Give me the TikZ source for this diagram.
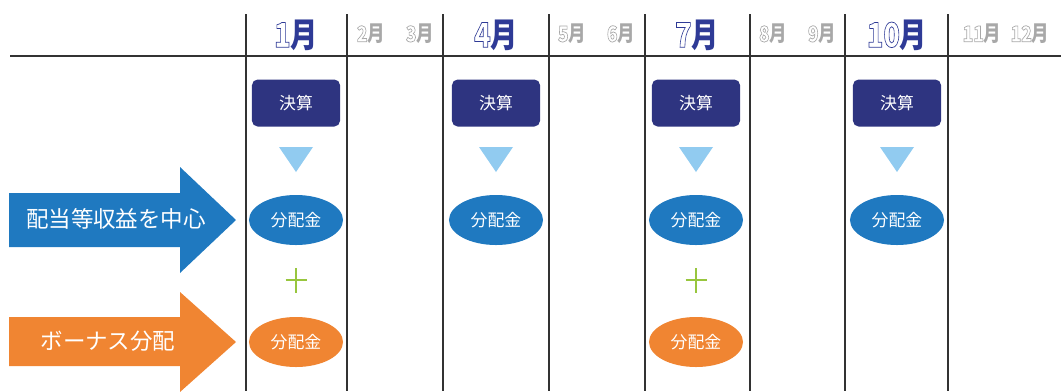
\documentclass[tikz,border=0pt]{standalone}
\usepackage{fontspec}
\usepackage{graphicx}
\setmainfont{Noto Sans CJK JP}
\usetikzlibrary{shapes.geometric}
\definecolor{navy}{RGB}{46,52,128}
\definecolor{skyblue}{RGB}{145,203,240}
\definecolor{divblue}{RGB}{31,121,192}
\definecolor{divorange}{RGB}{240,133,50}
\definecolor{plusgreen}{RGB}{152,198,62}
\definecolor{monthblue}{RGB}{46,58,150}
\definecolor{monthgray}{RGB}{168,168,168}
\definecolor{rule}{RGB}{50,50,50}
% hollow digits (stroke only)
\newcommand\hollow[1]{\special{pdf:literal direct 1 Tr 0.45 w}#1\special{pdf:literal direct 0 Tr}}
% tall month label
\newcommand\monthlabel[1]{\scalebox{0.92}[1.15]{\hollow{#1}月}}
\tikzset{
  kessan/.style={rectangle,rounded corners=4pt,fill=navy,text=white,inner sep=0pt,
    minimum width=2.2cm,minimum height=1.175cm,font=\fontsize{12}{12}\selectfont},
  haito/.style={ellipse,fill=#1,text=white,inner sep=0pt,
    minimum width=2.35cm,minimum height=1.25cm,font=\fontsize{12}{12}\selectfont},
  bigmonth/.style={text=monthblue,inner sep=0pt,font=\bfseries\fontsize{21}{21}\selectfont},
  smallmonth/.style={text=monthgray,inner sep=0pt,font=\bfseries\fontsize{13.5}{13.5}\selectfont},
  arrowtext/.style={text=white,font=\fontsize{16}{16}\selectfont},
  settle/.pic={
    \node[kessan] (-box) at (0,103) {決算};
    \fill[skyblue] (-17,147) -- (17,147) -- (0,172) -- cycle;
    \node[haito=divblue] (-div) at (0,220) {分配金};
  },
  bonus/.pic={
    \draw[plusgreen,line width=1.6pt] (-10.5,280) -- (10.5,280) (0,268) -- (0,293);
    \node[haito=divorange] (-div) at (0,342) {分配金};
  }
}

\begin{document}
\begin{tikzpicture}[x=0.025cm,y=-0.025cm]
%
\useasboundingbox (0,0) rectangle (1061,391);
%
% table rules
\draw[rule,line width=0.9pt] (10,56) -- (1061,56);
\foreach \xx in {246,347,443,549,645,750,845,948}
  \draw[rule,line width=0.9pt] (\xx,14) -- (\xx,391);
%
% month labels
\node[bigmonth] (m1) at (296,35) {\monthlabel{1}};
\node[smallmonth] (m2) at (371,34) {\monthlabel{2}};
\node[smallmonth] (m3) at (420,34) {\monthlabel{3}};
\node[bigmonth] (m4) at (496,35) {\monthlabel{4}};
\node[smallmonth] (m5) at (572,34) {\monthlabel{5}};
\node[smallmonth] (m6) at (621,34) {\monthlabel{6}};
\node[bigmonth] (m7) at (697,35) {\monthlabel{7}};
\node[smallmonth] (m8) at (773,34) {\monthlabel{8}};
\node[smallmonth] (m9) at (822,34) {\monthlabel{9}};
\node[bigmonth] (m10) at (897,35) {\monthlabel{10}};
\node[smallmonth] (m11) at (982,34) {\monthlabel{11}};
\node[smallmonth] (m12) at (1030,34) {\monthlabel{12}};
%
% settlement columns
\pic (jan) at (296,0) {settle};
\pic (apr) at (496,0) {settle};
\pic (jul) at (696,0) {settle};
\pic (oct) at (897,0) {settle};
\pic (janb) at (296,0) {bonus};
\pic (julb) at (696,0) {bonus};
%
% big arrows
\fill[divblue] (9,193) -- (180,193) -- (180,167) -- (236,220) -- (180,273) -- (180,247) -- (9,247) -- cycle;
\node[arrowtext] (income) at (116,219) {配当等収益を中心};
\fill[divorange] (9,317) -- (180,317) -- (180,292) -- (236,342) -- (180,392) -- (180,366) -- (9,366) -- cycle;
\node[arrowtext] (extra) at (108,341) {ボーナス分配};
%
\end{tikzpicture}
\end{document}
